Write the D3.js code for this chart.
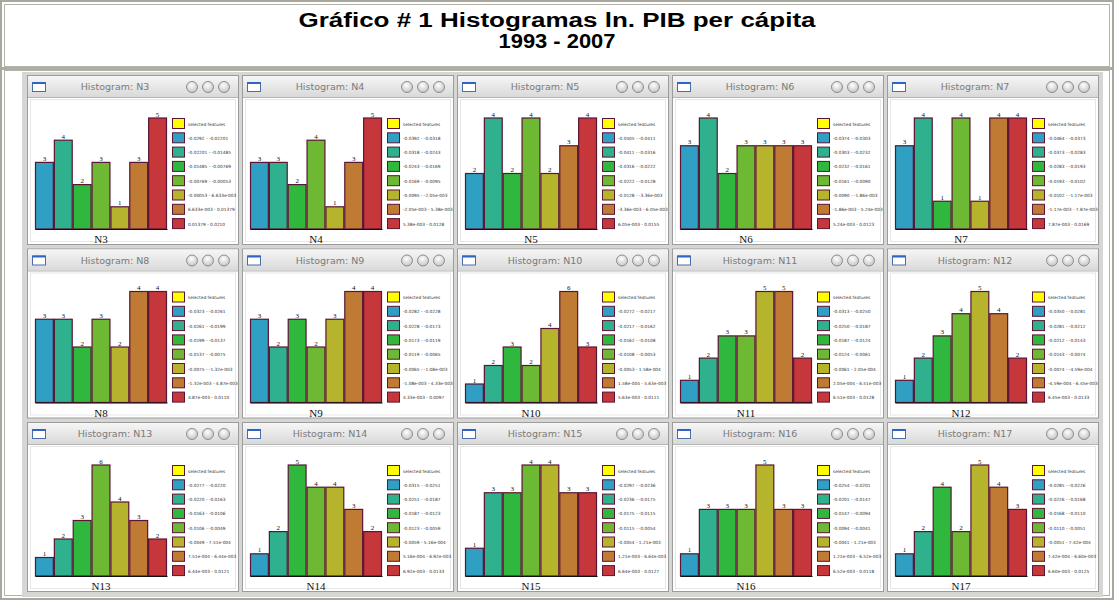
<!DOCTYPE html>
<html>
<head>
<meta charset="utf-8">
<script src="https://cdn.jsdelivr.net/npm/d3@7"></script>
<style>
  html, body { margin: 0; padding: 0; background: #fff; }
  svg { display: block; }
</style>
</head>
<body>
<svg id="chart" width="1114" height="600"></svg>
<script>
// ---- data ----
const titleLines = ["Gráfico # 1 Histogramas ln. PIB per cápita", "1993 - 2007"];
const variables = ["N3", "N4", "N5", "N6", "N7", "N8", "N9", "N10", "N11", "N12", "N13", "N14", "N15", "N16", "N17"];
const counts = [
  [3, 4, 2, 3, 1, 3, 5],
  [3, 3, 2, 4, 1, 3, 5],
  [2, 4, 2, 4, 2, 3, 4],
  [3, 4, 2, 3, 3, 3, 3],
  [3, 4, 1, 4, 1, 4, 4],
  [3, 3, 2, 3, 2, 4, 4],
  [3, 2, 3, 2, 3, 4, 4],
  [1, 2, 3, 2, 4, 6, 3],
  [1, 2, 3, 3, 5, 5, 2],
  [1, 2, 3, 4, 5, 4, 2],
  [1, 2, 3, 6, 4, 3, 2],
  [1, 2, 5, 4, 4, 3, 2],
  [1, 3, 3, 4, 4, 3, 3],
  [1, 3, 3, 3, 5, 3, 3],
  [1, 2, 4, 2, 5, 4, 3]
];
const binColors = ["#2f9fc3", "#30b18d", "#2fb83d", "#6db934", "#b6b42d", "#bf7a33", "#c6373b"];
const selectedLabel = "selected features";
const selectedColor = "#ffff00";
const binEdges = [
  ["-0.0292", "-0.02201", "-0.01485", "-0.00769", "-0.00053", "6.633e-003", "0.01379", "0.0210"],
  ["-0.0392", "-0.0318", "-0.0243", "-0.0169", "-0.0095", "-2.05e-003", "5.38e-003", "0.0128"],
  ["-0.0505", "-0.0411", "-0.0316", "-0.0222", "-0.0128", "-3.36e-003", "6.05e-003", "0.0155"],
  ["-0.0374", "-0.0303", "-0.0232", "-0.0161", "-0.0090", "-1.86e-003", "5.24e-003", "0.0123"],
  ["-0.0464", "-0.0373", "-0.0283", "-0.0193", "-0.0102", "-1.17e-003", "7.87e-003", "0.0169"],
  ["-0.0323", "-0.0261", "-0.0199", "-0.0137", "-0.0075", "-1.32e-003", "4.87e-003", "0.0110"],
  ["-0.0282", "-0.0228", "-0.0173", "-0.0119", "-0.0065", "-1.08e-003", "4.33e-003", "0.0097"],
  ["-0.0272", "-0.0217", "-0.0162", "-0.0108", "-0.0053", "1.58e-004", "5.63e-003", "0.0111"],
  ["-0.0313", "-0.0250", "-0.0187", "-0.0124", "-0.0061", "2.05e-004", "6.51e-003", "0.0128"],
  ["-0.0350", "-0.0281", "-0.0212", "-0.0143", "-0.0074", "-4.59e-004", "6.45e-003", "0.0133"],
  ["-0.0277", "-0.0220", "-0.0163", "-0.0106", "-0.0049", "7.51e-004", "6.44e-003", "0.0121"],
  ["-0.0315", "-0.0251", "-0.0187", "-0.0123", "-0.0059", "5.16e-004", "6.92e-003", "0.0133"],
  ["-0.0297", "-0.0236", "-0.0175", "-0.0115", "-0.0054", "1.21e-003", "6.64e-003", "0.0127"],
  ["-0.0254", "-0.0201", "-0.0147", "-0.0094", "-0.0041", "1.21e-003", "6.52e-003", "0.0118"],
  ["-0.0285", "-0.0226", "-0.0168", "-0.0110", "-0.0051", "7.42e-004", "6.60e-003", "0.0125"]
];

// ---- layout ----
const svg = d3.select("#chart");
const W = 1114, H = 600;
const cols = 5;
const win = { x0: 27, dx: 215, y0: 75, dy: 173.5, w: 212, h: 170, bar: 21 };
const plot = { left: 8, right: 140, top: 43, bottom: 154 };
const legend = { x: 145, y: 43, step: 14.3, sw: 12, sh: 10 };
const outline = "#5a1434";

const defs = svg.append("defs");
const tb = defs.append("linearGradient").attr("id", "titlebar").attr("x1", 0).attr("y1", 0).attr("x2", 0).attr("y2", 1);
tb.append("stop").attr("offset", "0%").attr("stop-color", "#f6f6f6");
tb.append("stop").attr("offset", "100%").attr("stop-color", "#d9d9d9");
const btn = defs.append("radialGradient").attr("id", "button").attr("cx", "45%").attr("cy", "35%").attr("r", "65%");
btn.append("stop").attr("offset", "0%").attr("stop-color", "#ffffff");
btn.append("stop").attr("offset", "100%").attr("stop-color", "#c4c4c4");

// page frame and title cell
svg.append("rect").attr("x", 0).attr("y", 0).attr("width", W).attr("height", H).attr("fill", "#fff");
svg.append("rect").attr("x", 1).attr("y", 1).attr("width", W - 2).attr("height", H - 2)
  .attr("fill", "none").attr("stroke", "#a9a89f").attr("stroke-width", 2);
svg.append("rect").attr("x", 4.5).attr("y", 4.5).attr("width", W - 9).attr("height", 62)
  .attr("fill", "#fff").attr("stroke", "#b4b3aa").attr("stroke-width", 1);
svg.append("rect").attr("x", 2).attr("y", 67).attr("width", W - 4).attr("height", 3).attr("fill", "#aeada4");
svg.append("rect").attr("x", 4.5).attr("y", 70.5).attr("width", W - 9).attr("height", H - 75)
  .attr("fill", "#fff").attr("stroke", "#b4b3aa").attr("stroke-width", 1);

// title, set in a wide bold face
const titleWidths = [517, 117];
svg.selectAll("text.title").data(titleLines).join("text")
  .attr("class", "title")
  .attr("x", W / 2).attr("y", (d, i) => 27 + i * 21)
  .attr("text-anchor", "middle")
  .attr("textLength", (d, i) => titleWidths[i])
  .attr("lengthAdjust", "spacingAndGlyphs")
  .style("font-family", "'Liberation Sans', Arial, sans-serif")
  .style("font-weight", "bold").style("font-size", "20px").attr("fill", "#000")
  .text(d => d);

// grey backdrop behind the histogram windows
svg.append("rect").attr("x", 22).attr("y", 72).attr("width", 1081).attr("height", 525).attr("fill", "#d6d6d4");

const panels = svg.selectAll("g.panel").data(variables).join("g")
  .attr("class", "panel")
  .attr("transform", (d, i) => `translate(${win.x0 + (i % cols) * win.dx},${win.y0 + Math.floor(i / cols) * win.dy})`);

panels.each(function (name, idx) {
  const g = d3.select(this);
  const vals = counts[idx];

  // window body
  g.append("rect").attr("x", 0.5).attr("y", 0.5).attr("width", win.w - 1).attr("height", win.h - 1)
    .attr("fill", "#fff").attr("stroke", "#9c9c9c");
  g.append("rect").attr("x", 1).attr("y", 1).attr("width", win.w - 2).attr("height", win.bar)
    .attr("fill", "url(#titlebar)");
  g.append("line").attr("x1", 1).attr("x2", win.w - 1).attr("y1", win.bar + 1.5).attr("y2", win.bar + 1.5)
    .attr("stroke", "#b5b5b5");
  g.append("rect").attr("x", 3.5).attr("y", win.bar + 3.5).attr("width", win.w - 7).attr("height", win.h - win.bar - 7)
    .attr("fill", "none").attr("stroke", "#e6e6e6");

  // window icon
  g.append("rect").attr("x", 5.5).attr("y", 7.5).attr("width", 13).attr("height", 9)
    .attr("fill", "#fff").attr("stroke", "#4a6da8").attr("stroke-width", 1);
  g.append("line").attr("x1", 5.5).attr("x2", 18.5).attr("y1", 8).attr("y2", 8)
    .attr("stroke", "#2f63c4").attr("stroke-width", 2);

  // window title
  g.append("text").attr("x", 88).attr("y", 15).attr("text-anchor", "middle")
    .style("font-family", "'DejaVu Sans', sans-serif").style("font-size", "9.5px")
    .attr("fill", "#7a7a7a").text("Histogram: " + name);

  // window buttons
  g.selectAll("circle.btn").data([165, 181, 197]).join("circle").attr("class", "btn")
    .attr("cx", d => d).attr("cy", 12).attr("r", 5.5)
    .attr("fill", "url(#button)").attr("stroke", "#8e8e8e").attr("stroke-width", 1);

  // histogram
  const x = d3.scaleBand().domain(d3.range(vals.length)).range([plot.left, plot.right]).paddingInner(0).paddingOuter(0);
  const y = d3.scaleLinear().domain([0, d3.max(vals)]).range([plot.bottom, plot.top]);

  g.selectAll("rect.bar").data(vals).join("rect").attr("class", "bar")
    .attr("x", (d, i) => x(i) + 0.5).attr("y", d => y(d))
    .attr("width", x.bandwidth() - 1).attr("height", d => y(0) - y(d))
    .attr("fill", (d, i) => binColors[i])
    .attr("stroke", outline).attr("stroke-width", 1.2);

  g.selectAll("text.count").data(vals).join("text").attr("class", "count")
    .attr("x", (d, i) => x(i) + x.bandwidth() / 2).attr("y", d => y(d) - 1.5)
    .attr("text-anchor", "middle")
    .style("font-family", "'Liberation Serif', serif").style("font-size", "7px")
    .attr("fill", "#111").text(d => d);

  const axis = d3.axisBottom(x).tickValues([]).tickSizeOuter(0);
  const ag = g.append("g").attr("transform", `translate(0,${plot.bottom})`).call(axis);
  ag.select(".domain").attr("stroke", "#111").attr("stroke-width", 1.2);

  g.append("text").attr("x", (plot.left + plot.right) / 2).attr("y", plot.bottom + 14)
    .attr("text-anchor", "middle")
    .style("font-family", "'Liberation Serif', serif").style("font-size", "11px")
    .attr("fill", "#111").text(name);

  // legend
  const edges = binEdges[idx];
  const items = [{ label: selectedLabel, color: selectedColor }]
    .concat(binColors.map((c, i) => ({ label: edges[i] + " - " + edges[i + 1], color: c })));
  const lg = g.selectAll("g.leg").data(items).join("g").attr("class", "leg")
    .attr("transform", (d, i) => `translate(${legend.x},${legend.y + i * legend.step})`);
  lg.append("rect").attr("x", 0.5).attr("y", 0.5).attr("width", legend.sw).attr("height", legend.sh)
    .attr("fill", d => d.color).attr("stroke", outline).attr("stroke-width", 1);
  lg.append("text").attr("x", legend.sw + 4).attr("y", legend.sh / 2 + 2.5)
    .style("font-family", "'DejaVu Sans', sans-serif").style("font-size", "4.3px")
    .attr("fill", "#333").text(d => d.label);
});
</script>
</body>
</html>
